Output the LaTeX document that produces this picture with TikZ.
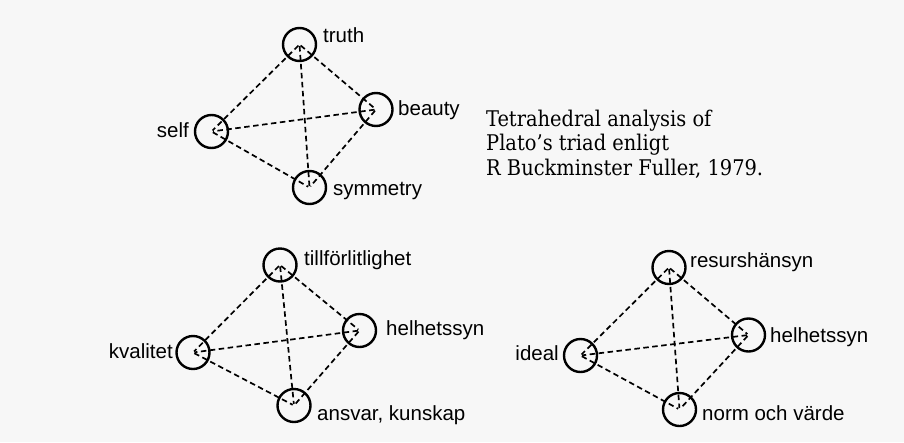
\documentclass[tikz,border=0pt]{standalone}
\usepackage{fontspec}
\setmainfont{DejaVu Serif Condensed}
\newfontfamily\labfont{Liberation Sans}
\definecolor{bgcol}{RGB}{247,247,247}
\begin{document}
\begin{tikzpicture}[x=1pt,y=-1pt,
  vtx/.style={circle, draw=black, line width=2.4pt, minimum size=33pt, inner sep=0pt},
  edge/.style={line width=1.7pt, dash pattern=on 5.5pt off 3.5pt, shorten >=1.5pt, shorten <=1.5pt},
  lab/.style={font=\labfont\fontsize{20.5}{24}\selectfont, inner sep=0pt},
  captext/.style={font=\fontsize{21.6}{24.5}\selectfont, inner sep=0pt, align=left},
]
\fill[bgcol] (0,0) rectangle (904,442);
\useasboundingbox (0,0) rectangle (904,442);

% tetrahedron 1
\node[vtx] (a1) at (299.5,44.5) {};
\node[vtx] (b1) at (376,109.5) {};
\node[vtx] (c1) at (211.5,131.5) {};
\node[vtx] (d1) at (309.5,187.5) {};
\foreach \p/\q in {a1/b1,a1/c1,a1/d1,b1/c1,b1/d1,c1/d1}
  \draw[edge] (\p.center) -- (\q.center);
\node[lab, anchor=base west] (la1) at (323,42) {truth};
\node[lab, anchor=base west] (lb1) at (398,115) {beauty};
\node[lab, anchor=base east] (lc1) at (189,137) {self};
\node[lab, anchor=base west] (ld1) at (333,195) {symmetry};

% tetrahedron 2
\node[vtx] (a2) at (280,265) {};
\node[vtx] (b2) at (359.5,330.5) {};
\node[vtx] (c2) at (193,352.5) {};
\node[vtx] (d2) at (294,405.5) {};
\foreach \p/\q in {a2/b2,a2/c2,a2/d2,b2/c2,b2/d2,c2/d2}
  \draw[edge] (\p.center) -- (\q.center);
\node[lab, anchor=base west] (la2) at (304,265) {tillförlitlighet};
\node[lab, anchor=base west] (lb2) at (386,335) {helhetssyn};
\node[lab, anchor=base east] (lc2) at (173,358) {kvalitet};
\node[lab, anchor=base west] (ld2) at (317,420) {ansvar, kunskap};

% tetrahedron 3
\node[vtx] (a3) at (669,267.5) {};
\node[vtx] (b3) at (748.5,335) {};
\node[vtx] (c3) at (580.5,355.5) {};
\node[vtx] (d3) at (679.5,409.5) {};
\foreach \p/\q in {a3/b3,a3/c3,a3/d3,b3/c3,b3/d3,c3/d3}
  \draw[edge] (\p.center) -- (\q.center);
\node[lab, anchor=base west] (la3) at (690,267) {resurshänsyn};
\node[lab, anchor=base west] (lb3) at (770,342) {helhetssyn};
\node[lab, anchor=base east] (lc3) at (559,360) {ideal};
\node[lab, anchor=base west] (ld3) at (702,420) {norm och värde};

% caption
\node[captext, anchor=north west] (caption) at (486,109.5) {Tetrahedral analysis of\\Plato's triad enligt\\R Buckminster Fuller, 1979.};
\end{tikzpicture}
\end{document}
